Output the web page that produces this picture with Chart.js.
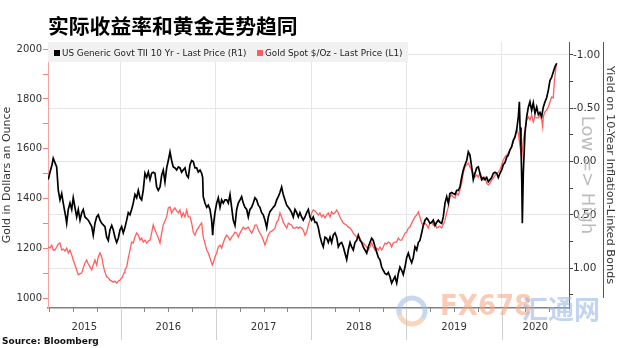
<!DOCTYPE html>
<html>
<head>
<meta charset="utf-8">
<title>实际收益率和黄金走势趋同</title>
<script src="https://cdn.jsdelivr.net/npm/chart.js@4.4.1/dist/chart.umd.min.js"></script>
<style>
  html, body { margin: 0; padding: 0; background: #fff; }
  #wrap { width: 620px; height: 348px; }
</style>
</head>
<body>
<div id="wrap"><canvas id="goldChart" width="620" height="348"></canvas></div>
<script>
// --- Data (dates as decimal years) ---
const chartTitle = '实际收益率和黄金走势趋同';
const tipsLabel = 'US Generic Govt TII 10 Yr - Last Price (R1)';
const goldLabel = 'Gold Spot $/Oz - Last Price (L1)';

// 10y TIPS real yield, %
const tipsDates = [
  2015.240, 2015.258, 2015.279, 2015.292, 2015.310, 2015.328, 2015.345, 2015.363, 2015.381, 2015.397, 2015.423, 2015.433, 2015.450, 2015.468, 2015.486, 2015.502, 2015.520, 2015.538, 2015.555, 2015.573, 2015.591, 2015.607, 2015.625, 2015.660, 2015.696, 2015.712, 2015.730, 2015.748, 2015.765, 2015.783, 2015.801, 2015.835, 2015.853, 2015.870, 2015.888, 2015.906, 2015.922, 2015.940, 2015.958, 2015.975, 2015.993,
  2016.010, 2016.027, 2016.045, 2016.063, 2016.080, 2016.098, 2016.115, 2016.132, 2016.150, 2016.168, 2016.185, 2016.203, 2016.220, 2016.237, 2016.255, 2016.273, 2016.290, 2016.308, 2016.325, 2016.342, 2016.360, 2016.378, 2016.395, 2016.413, 2016.430, 2016.447, 2016.465, 2016.483, 2016.500, 2016.518, 2016.535, 2016.552, 2016.570, 2016.588, 2016.605, 2016.623, 2016.640, 2016.657, 2016.675, 2016.693, 2016.710, 2016.728, 2016.745, 2016.762, 2016.780, 2016.798, 2016.815, 2016.833, 2016.850, 2016.861, 2016.867, 2016.885, 2016.903, 2016.920, 2016.938, 2016.955, 2016.966, 2016.972, 2016.990,
  2017.008, 2017.025, 2017.043, 2017.060, 2017.077, 2017.095, 2017.113, 2017.130, 2017.148, 2017.165, 2017.182, 2017.200, 2017.218, 2017.235, 2017.253, 2017.270, 2017.287, 2017.305, 2017.323, 2017.340, 2017.357, 2017.375, 2017.392, 2017.410, 2017.428, 2017.445, 2017.462, 2017.480, 2017.497, 2017.515, 2017.533, 2017.550, 2017.567, 2017.585, 2017.602, 2017.620, 2017.638, 2017.655, 2017.672, 2017.690, 2017.707, 2017.725, 2017.743, 2017.760, 2017.777, 2017.795, 2017.812, 2017.830, 2017.848, 2017.865, 2017.882, 2017.900, 2017.917, 2017.935, 2017.953, 2017.970, 2017.987,
  2018.005, 2018.022, 2018.040, 2018.057, 2018.075, 2018.092, 2018.110, 2018.127, 2018.145, 2018.163, 2018.180, 2018.198, 2018.215, 2018.232, 2018.250, 2018.268, 2018.285, 2018.303, 2018.320, 2018.337, 2018.355, 2018.373, 2018.390, 2018.408, 2018.425, 2018.442, 2018.460, 2018.478, 2018.495, 2018.513, 2018.530, 2018.547, 2018.565, 2018.583, 2018.600, 2018.617, 2018.635, 2018.652, 2018.670, 2018.688, 2018.705, 2018.722, 2018.740, 2018.757, 2018.775, 2018.793, 2018.810, 2018.827, 2018.845, 2018.862, 2018.880, 2018.898, 2018.915, 2018.932, 2018.950, 2018.967, 2018.985,
  2019.003, 2019.020, 2019.037, 2019.055, 2019.072, 2019.090, 2019.108, 2019.125, 2019.142, 2019.160, 2019.177, 2019.195, 2019.213, 2019.230, 2019.247, 2019.265, 2019.282, 2019.300, 2019.318, 2019.335, 2019.352, 2019.370, 2019.387, 2019.405, 2019.423, 2019.440, 2019.457, 2019.475, 2019.492, 2019.510, 2019.528, 2019.545, 2019.562, 2019.580, 2019.597, 2019.615, 2019.633, 2019.650, 2019.667, 2019.685, 2019.702, 2019.720, 2019.738, 2019.755, 2019.772, 2019.790, 2019.807, 2019.825, 2019.843, 2019.860, 2019.877, 2019.895, 2019.912, 2019.930, 2019.948, 2019.965, 2019.982,
  2020.000, 2020.017, 2020.035, 2020.053, 2020.070, 2020.087, 2020.105, 2020.122, 2020.140, 2020.158, 2020.175, 2020.186, 2020.193, 2020.203, 2020.211, 2020.217, 2020.227, 2020.245, 2020.263, 2020.280, 2020.297, 2020.315, 2020.332, 2020.350, 2020.368, 2020.385, 2020.402, 2020.420, 2020.437, 2020.455, 2020.473, 2020.490, 2020.507, 2020.525, 2020.542, 2020.560, 2020.578
];
const tipsYield = [
  0.17, 0.10, 0.03, -0.03, 0.01, 0.05, 0.27, 0.36, 0.30, 0.39, 0.52, 0.58, 0.45, 0.39, 0.45, 0.34, 0.43, 0.52, 0.45, 0.55, 0.48, 0.45, 0.52, 0.55, 0.61, 0.69, 0.58, 0.52, 0.50, 0.55, 0.58, 0.61, 0.71, 0.74, 0.64, 0.60, 0.64, 0.71, 0.76, 0.72, 0.64,
  0.61, 0.67, 0.62, 0.55, 0.48, 0.50, 0.45, 0.39, 0.31, 0.34, 0.27, 0.34, 0.36, 0.27, 0.11, 0.15, 0.10, 0.17, 0.11, 0.10, 0.11, 0.24, 0.27, 0.24, 0.13, 0.08, 0.19, 0.06, -0.01, -0.09, -0.01, 0.05, 0.06, 0.08, 0.05, 0.06, 0.10, 0.08, 0.06, 0.13, 0.15, 0.03, -0.01, 0.00, 0.06, 0.06, 0.10, 0.08, 0.11, 0.15, 0.33, 0.39, 0.43, 0.41, 0.45, 0.55, 0.69, 0.61, 0.48,
  0.39, 0.34, 0.43, 0.36, 0.39, 0.36, 0.36, 0.39, 0.31, 0.43, 0.55, 0.60, 0.45, 0.39, 0.36, 0.33, 0.39, 0.43, 0.45, 0.52, 0.45, 0.43, 0.39, 0.34, 0.36, 0.41, 0.43, 0.48, 0.50, 0.55, 0.62, 0.52, 0.47, 0.45, 0.43, 0.41, 0.36, 0.33, 0.29, 0.24, 0.31, 0.36, 0.41, 0.43, 0.45, 0.48, 0.52, 0.45, 0.48, 0.52, 0.48, 0.52, 0.55, 0.52, 0.48, 0.45, 0.52,
  0.55, 0.52, 0.57, 0.57, 0.62, 0.70, 0.76, 0.80, 0.71, 0.72, 0.76, 0.71, 0.76, 0.69, 0.67, 0.71, 0.80, 0.77, 0.76, 0.80, 0.86, 0.92, 0.83, 0.76, 0.80, 0.83, 0.76, 0.74, 0.69, 0.74, 0.76, 0.80, 0.83, 0.86, 0.80, 0.76, 0.72, 0.74, 0.80, 0.85, 0.90, 0.92, 0.99, 1.02, 1.05, 1.06, 1.04, 1.08, 1.14, 1.11, 1.08, 1.14, 1.05, 0.99, 1.02, 1.06, 0.99,
  0.90, 0.86, 0.91, 0.95, 0.90, 0.80, 0.83, 0.76, 0.74, 0.67, 0.60, 0.55, 0.53, 0.55, 0.58, 0.57, 0.55, 0.60, 0.57, 0.55, 0.57, 0.58, 0.52, 0.39, 0.33, 0.39, 0.30, 0.29, 0.30, 0.31, 0.27, 0.27, 0.24, 0.15, 0.08, 0.03, -0.01, -0.09, -0.06, 0.05, 0.17, 0.11, 0.06, 0.05, 0.11, 0.17, 0.15, 0.17, 0.15, 0.19, 0.17, 0.15, 0.11, 0.10, 0.11, 0.15, 0.11,
  0.08, 0.03, 0.01, -0.04, -0.06, -0.11, -0.14, -0.20, -0.23, -0.30, -0.42, -0.56, -0.32, -0.14, 0.17, 0.58, 0.11, -0.27, -0.42, -0.51, -0.56, -0.48, -0.55, -0.45, -0.51, -0.44, -0.46, -0.42, -0.51, -0.56, -0.60, -0.67, -0.76, -0.79, -0.84, -0.89, -0.92
];

// Gold spot, USD per ounce
const goldDates = [
  2015.240, 2015.258, 2015.276, 2015.292, 2015.310, 2015.328, 2015.345, 2015.363, 2015.381, 2015.397, 2015.415, 2015.433, 2015.450, 2015.468, 2015.486, 2015.502, 2015.520, 2015.538, 2015.555, 2015.573, 2015.591, 2015.607, 2015.625, 2015.643, 2015.660, 2015.678, 2015.696, 2015.712, 2015.730, 2015.748, 2015.765, 2015.783, 2015.801, 2015.814, 2015.828, 2015.853, 2015.870, 2015.888, 2015.906, 2015.922, 2015.940, 2015.958, 2015.975, 2015.993,
  2016.017, 2016.035, 2016.045, 2016.063, 2016.080, 2016.098, 2016.115, 2016.132, 2016.150, 2016.168, 2016.185, 2016.203, 2016.220, 2016.237, 2016.255, 2016.273, 2016.290, 2016.308, 2016.325, 2016.342, 2016.360, 2016.378, 2016.395, 2016.413, 2016.430, 2016.447, 2016.465, 2016.483, 2016.500, 2016.518, 2016.535, 2016.552, 2016.570, 2016.588, 2016.605, 2016.623, 2016.640, 2016.657, 2016.675, 2016.693, 2016.710, 2016.728, 2016.745, 2016.762, 2016.780, 2016.798, 2016.815, 2016.833, 2016.850, 2016.867, 2016.885, 2016.903, 2016.920, 2016.938, 2016.955, 2016.962, 2016.972, 2016.990,
  2017.008, 2017.025, 2017.043, 2017.060, 2017.077, 2017.095, 2017.113, 2017.130, 2017.148, 2017.165, 2017.182, 2017.200, 2017.218, 2017.235, 2017.253, 2017.270, 2017.287, 2017.305, 2017.323, 2017.340, 2017.357, 2017.375, 2017.392, 2017.410, 2017.428, 2017.445, 2017.462, 2017.480, 2017.497, 2017.515, 2017.533, 2017.550, 2017.567, 2017.585, 2017.602, 2017.620, 2017.638, 2017.655, 2017.672, 2017.690, 2017.707, 2017.725, 2017.743, 2017.760, 2017.777, 2017.795, 2017.812, 2017.830, 2017.848, 2017.865, 2017.882, 2017.900, 2017.917, 2017.935, 2017.953, 2017.970, 2017.987,
  2018.005, 2018.022, 2018.040, 2018.057, 2018.075, 2018.092, 2018.110, 2018.127, 2018.145, 2018.163, 2018.180, 2018.198, 2018.215, 2018.232, 2018.250, 2018.268, 2018.285, 2018.303, 2018.320, 2018.337, 2018.355, 2018.373, 2018.390, 2018.408, 2018.425, 2018.442, 2018.460, 2018.478, 2018.495, 2018.513, 2018.530, 2018.547, 2018.565, 2018.583, 2018.600, 2018.617, 2018.635, 2018.652, 2018.670, 2018.688, 2018.705, 2018.722, 2018.740, 2018.757, 2018.775, 2018.793, 2018.810, 2018.827, 2018.845, 2018.862, 2018.880, 2018.898, 2018.915, 2018.932, 2018.950, 2018.967, 2018.985,
  2019.003, 2019.020, 2019.037, 2019.055, 2019.072, 2019.090, 2019.108, 2019.125, 2019.142, 2019.160, 2019.177, 2019.195, 2019.213, 2019.230, 2019.247, 2019.265, 2019.282, 2019.300, 2019.318, 2019.335, 2019.352, 2019.370, 2019.387, 2019.405, 2019.423, 2019.440, 2019.457, 2019.475, 2019.492, 2019.510, 2019.528, 2019.545, 2019.562, 2019.580, 2019.597, 2019.615, 2019.633, 2019.650, 2019.667, 2019.685, 2019.702, 2019.720, 2019.738, 2019.755, 2019.772, 2019.790, 2019.807, 2019.825, 2019.843, 2019.860, 2019.877, 2019.895, 2019.912, 2019.930, 2019.948, 2019.965, 2019.982,
  2020.000, 2020.017, 2020.035, 2020.053, 2020.070, 2020.087, 2020.105, 2020.122, 2020.140, 2020.158, 2020.175, 2020.193, 2020.211, 2020.227, 2020.245, 2020.263, 2020.280, 2020.297, 2020.315, 2020.332, 2020.350, 2020.368, 2020.385, 2020.402, 2020.420, 2020.431, 2020.437, 2020.455, 2020.473, 2020.490, 2020.507, 2020.525, 2020.542, 2020.552, 2020.567, 2020.578
];
const goldPrice = [
  1206, 1201, 1213, 1193, 1193, 1205, 1217, 1221, 1193, 1197, 1189, 1201, 1181, 1193, 1173, 1153, 1133, 1113, 1093, 1097, 1101, 1121, 1141, 1153, 1137, 1125, 1113, 1133, 1153, 1133, 1165, 1181, 1165, 1137, 1113, 1085, 1081, 1072, 1068, 1064, 1068, 1060, 1068, 1072,
  1084, 1101, 1113, 1125, 1161, 1193, 1225, 1221, 1245, 1261, 1253, 1233, 1241, 1225, 1233, 1221, 1229, 1233, 1261, 1294, 1273, 1257, 1241, 1221, 1261, 1294, 1310, 1326, 1362, 1366, 1342, 1354, 1362, 1350, 1342, 1354, 1326, 1342, 1326, 1354, 1326, 1326, 1302, 1265, 1253, 1273, 1281, 1293, 1302, 1245, 1221, 1193, 1181, 1161, 1141, 1133, 1141, 1165,
  1181, 1205, 1213, 1201, 1221, 1241, 1253, 1245, 1233, 1245, 1253, 1265, 1261, 1245, 1261, 1273, 1285, 1277, 1281, 1285, 1273, 1261, 1273, 1293, 1293, 1273, 1261, 1249, 1233, 1213, 1233, 1253, 1265, 1269, 1273, 1281, 1305, 1313, 1342, 1326, 1305, 1293, 1281, 1301, 1297, 1293, 1281, 1281, 1285, 1281, 1285, 1281, 1273, 1253, 1265, 1293, 1313,
  1342, 1354, 1350, 1342, 1334, 1342, 1326, 1334, 1322, 1334, 1342, 1326, 1346, 1338, 1342, 1354, 1342, 1326, 1313, 1301, 1297, 1293, 1285, 1281, 1273, 1261, 1253, 1245, 1245, 1241, 1225, 1221, 1213, 1205, 1193, 1205, 1221, 1205, 1193, 1201, 1193, 1205, 1193, 1205, 1221, 1217, 1225, 1221, 1205, 1221, 1225, 1225, 1241, 1233, 1233, 1245, 1261,
  1265, 1281, 1285, 1301, 1313, 1326, 1334, 1346, 1326, 1301, 1293, 1301, 1293, 1281, 1301, 1305, 1293, 1301, 1281, 1285, 1289, 1281, 1297, 1313, 1342, 1366, 1406, 1414, 1406, 1402, 1422, 1414, 1434, 1462, 1502, 1527, 1535, 1543, 1527, 1515, 1502, 1486, 1494, 1486, 1502, 1486, 1474, 1486, 1462, 1454, 1462, 1474, 1482, 1494, 1502, 1506, 1515,
  1535, 1555, 1567, 1575, 1583, 1595, 1607, 1627, 1647, 1676, 1663, 1607, 1567, 1635, 1676, 1716, 1728, 1716, 1736, 1708, 1728, 1724, 1724, 1736, 1716, 1688, 1728, 1748, 1756, 1768, 1788, 1808, 1804, 1864, 1917, 1945
];

// Axes
const yearLabels = ['2015', '2016', '2017', '2018', '2019', '2020'];
const yearStarts = [2016, 2017, 2018, 2019, 2020];
const goldTicks = [1000, 1100, 1200, 1300, 1400, 1500, 1600, 1700, 1800, 1900, 2000];
const yieldTicks = [-1, -0.75, -0.5, -0.25, 0, 0.25, 0.5, 0.75, 1, 1.25];
const xRange = [2015.237, 2020.707];
const goldRange = [960, 2029];
const yieldRange = [-1.121, 1.374];

const FONT = '"DejaVu Sans", Verdana, sans-serif';

const toPoints = (xs, ys) => xs.map((x, i) => ({ x, y: ys[i] }));
const isHalfStep = v => Math.abs(v * 2 - Math.round(v * 2)) < 1e-9;

// --- Extra drawing: title, legend box, year band labels, notes ---
const decorPlugin = {
    id: 'decor',
    beforeDatasetsDraw(chart) {
        const { ctx, chartArea } = chart;
        ctx.save();
        // legend strip
        ctx.fillStyle = '#f1f1f1';
        ctx.fillRect(chartArea.left, chartArea.top, 360, 20);
        const items = [
            { text: tipsLabel, color: '#000000', x: chartArea.left + 6 },
            { text: goldLabel, color: '#ff5f5f', x: chartArea.left + 209 }
        ];
        ctx.font = '8.8px ' + FONT;
        ctx.textBaseline = 'middle';
        items.forEach(it => {
            ctx.fillStyle = it.color;
            ctx.fillRect(it.x, chartArea.top + 8, 6, 6);
            ctx.fillStyle = '#222';
            ctx.fillText(it.text, it.x + 8, chartArea.top + 11.5);
        });
        ctx.restore();
    },
    afterDraw(chart) {
        const { ctx, chartArea, scales } = chart;
        const xs = scales.x;
        ctx.save();

        // title
        ctx.fillStyle = '#000';
        ctx.font = 'bold 20.8px "Noto Sans CJK SC", sans-serif';
        ctx.textBaseline = 'middle';
        ctx.textAlign = 'left';
        ctx.fillText(chartTitle, 48, 26);

        // quarterly ticks and year separators under the x axis
        const bottom = chartArea.bottom;
        ctx.lineWidth = 1;
        for (let yr = 2015; yr <= 2020; yr++) {
            for (let q = 0; q < 4; q++) {
                const t = yr + q / 4;
                if (t < xRange[0] || t > xRange[1]) continue;
                const px = Math.round(xs.getPixelForValue(t)) + 0.5;
                ctx.beginPath();
                ctx.moveTo(px, bottom);
                ctx.lineTo(px, bottom + (q === 0 ? 32 : 4));
                ctx.strokeStyle = q === 0 ? '#cfcfcf' : '#888';
                ctx.stroke();
            }
        }

        // year labels centred in each visible year
        ctx.fillStyle = '#333';
        ctx.font = '10px ' + FONT;
        ctx.textAlign = 'center';
        yearLabels.forEach(label => {
            const yr = Number(label);
            const a = Math.max(yr, xRange[0]);
            const b = Math.min(yr + 1, xRange[1]);
            const mid = (xs.getPixelForValue(a) + xs.getPixelForValue(b)) / 2;
            ctx.fillText(label, mid, 327);
        });

        // "Low => High" note along the right axis
        ctx.save();
        ctx.translate(587, 175);
        ctx.rotate(Math.PI / 2);
        ctx.fillStyle = '#bdbdbd';
        ctx.font = '18px ' + FONT;
        ctx.textAlign = 'center';
        ctx.fillText('Low => High', 0, 0);
        ctx.restore();

        // rule beside the right axis title
        ctx.strokeStyle = '#555';
        ctx.beginPath();
        ctx.moveTo(603.5, chartArea.top);
        ctx.lineTo(603.5, 298);
        ctx.stroke();

        // source
        ctx.textAlign = 'left';
        ctx.fillStyle = '#111';
        ctx.font = 'bold 9px ' + FONT;
        ctx.fillText('Source: Bloomberg', 2, 342);

        // site mark
        ctx.globalAlpha = 0.55;
        ctx.lineWidth = 5;
        ctx.strokeStyle = '#9db8e6';
        ctx.beginPath();
        ctx.arc(412, 311, 13, Math.PI * 0.9, Math.PI * 2.2);
        ctx.stroke();
        ctx.strokeStyle = '#f6b48a';
        ctx.beginPath();
        ctx.arc(412, 311, 13, Math.PI * 0.2, Math.PI * 0.9);
        ctx.stroke();
        ctx.fillStyle = '#f5a07c';
        ctx.font = 'bold 29px "DejaVu Sans Condensed", "Liberation Sans Narrow", sans-serif';
        ctx.fillText('FX678', 440, 307);
        ctx.fillStyle = '#8fb0e2';
        ctx.font = 'bold 26px "Noto Sans CJK SC", sans-serif';
        ctx.fillText('汇通网', 522, 309);

        ctx.restore();
    }
};

document.addEventListener('DOMContentLoaded', () => {
    const ctx = document.getElementById('goldChart').getContext('2d');

    new Chart(ctx, {
        type: 'line',
        data: {
            datasets: [
                {
                    label: tipsLabel,
                    data: toPoints(tipsDates, tipsYield),
                    yAxisID: 'yR',
                    borderColor: '#000000',
                    borderWidth: 1.7,
                    pointRadius: 0,
                    tension: 0
                },
                {
                    label: goldLabel,
                    data: toPoints(goldDates, goldPrice),
                    yAxisID: 'yL',
                    borderColor: '#ff5f5f',
                    borderWidth: 1.3,
                    pointRadius: 0,
                    tension: 0
                }
            ]
        },
        options: {
            responsive: false,
            animation: false,
            layout: { padding: { top: 42, left: 0, right: 0, bottom: 0 } },
            plugins: {
                legend: { display: false },
                tooltip: { enabled: false }
            },
            scales: {
                x: {
                    type: 'linear',
                    min: xRange[0],
                    max: xRange[1],
                    afterBuildTicks: s => { s.ticks = yearStarts.map(v => ({ value: v })); },
                    afterFit: s => { s.height = 40; },
                    ticks: { display: false },
                    grid: { color: '#e6e6e6', drawTicks: false },
                    border: { display: true, color: '#808080', width: 1.5 }
                },
                yL: {
                    position: 'left',
                    min: goldRange[0],
                    max: goldRange[1],
                    afterBuildTicks: s => { s.ticks = goldTicks.map(v => ({ value: v })); },
                    afterFit: s => { s.width = 48; },
                    ticks: {
                        color: '#333',
                        font: { family: FONT, size: 10 },
                        padding: 1,
                        callback: v => (v % 200 === 0 ? String(v) : '')
                    },
                    grid: { drawOnChartArea: false, tickLength: 5, tickColor: '#f07f7f' },
                    border: { color: '#f5a5a5', width: 1 },
                    title: {
                        display: true,
                        text: 'Gold in Dollars an Ounce',
                        color: '#333',
                        font: { family: FONT, size: 11 },
                        padding: { top: 1, bottom: 0 }
                    }
                },
                yR: {
                    position: 'right',
                    reverse: true,
                    min: yieldRange[0],
                    max: yieldRange[1],
                    afterBuildTicks: s => { s.ticks = yieldTicks.map(v => ({ value: v })); },
                    afterFit: s => { s.width = 51; },
                    ticks: {
                        color: '#333',
                        font: { family: FONT, size: 10.5 },
                        padding: 0,
                        callback: v => (isHalfStep(v) ? v.toFixed(2) : '')
                    },
                    grid: {
                        tickLength: 4,
                        tickColor: '#444',
                        color: c => (isHalfStep(c.tick.value) ? '#e6e6e6' : 'rgba(0,0,0,0)')
                    },
                    border: { color: '#555', width: 1 },
                    title: {
                        display: true,
                        text: 'Yield on 10-Year Inflation-Linked Bonds',
                        color: '#333',
                        font: { family: FONT, size: 11.3 },
                        padding: { top: 3, bottom: 0 }
                    }
                }
            }
        },
        plugins: [decorPlugin]
    });
});
</script>
</body>
</html>
